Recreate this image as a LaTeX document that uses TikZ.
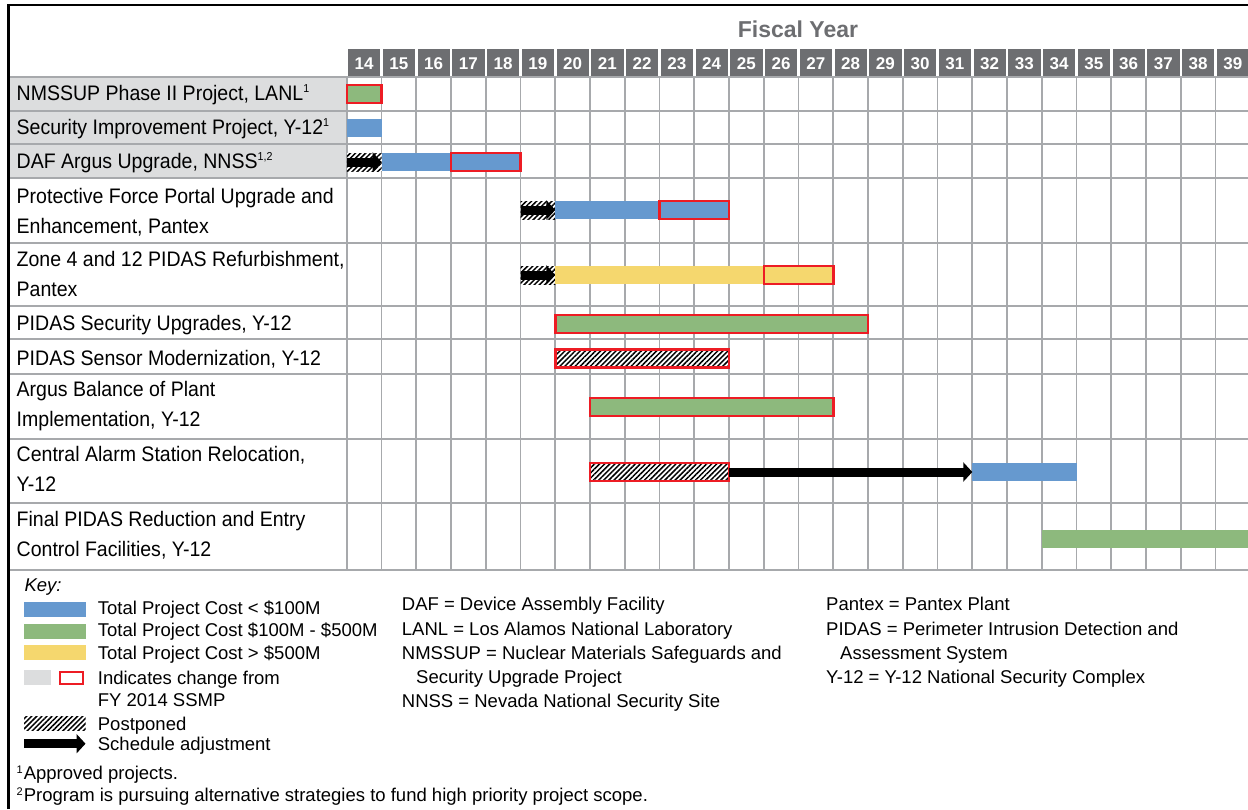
\documentclass[tikz,border=0pt]{standalone}
\usepackage{fontspec}
\setmainfont{Liberation Sans}
\newfontfamily\narrowf[FakeStretch=0.93]{Liberation Sans}
\usetikzlibrary{arrows.meta,patterns.meta}
\definecolor{hdrgray}{HTML}{6D6E71}
\definecolor{gridgray}{HTML}{A7A9AC}
\definecolor{lblgray}{HTML}{DCDDDE}
\definecolor{barblue}{HTML}{6699CF}
\definecolor{bargreen}{HTML}{8DB97D}
\definecolor{baryellow}{HTML}{F5D76E}
\definecolor{chgred}{HTML}{ED1C24}
\newcommand{\supr}[1]{\raisebox{7.5pt}{\fontsize{11.5}{11.5}\selectfont #1}}
\newcommand{\fnmark}[1]{\raisebox{6pt}{\fontsize{11}{11}\selectfont #1}\hspace{1pt}}
\newcommand{\gbar}[5]{\node[#2, minimum width={(#4-#3)*34.75pt}] (#1) at ({346.8+34.75*(#3-14)},#5) {};}
\begin{document}
\begin{tikzpicture}[x=1pt,y=-1pt,
  gridline/.style={draw=gridgray, line width=1.8pt},
  hdrnum/.style={anchor=base, inner sep=0, text=white, font=\bfseries\fontsize{17}{17}\selectfont},
  lbl/.style={anchor=base west, inner sep=0, align=left, font=\narrowf\fontsize{21}{29.6}\selectfont},
  keyt/.style={anchor=base west, inner sep=0, font=\fontsize{18.5}{18.5}\selectfont},
  barbase/.style={anchor=north west, inner sep=0, outer sep=0, minimum height=18pt},
  blueb/.style={barbase, fill=barblue},
  greenb/.style={barbase, fill=bargreen},
  yellowb/.style={barbase, fill=baryellow},
  chg/.style={draw=chgred, line width=2.5pt},
  hatchb/.style={barbase, preaction={fill=white}, pattern={Lines[angle=45,distance=3.6pt,line width=1.5pt]}},
  sched/.style={line width=9pt, -{Triangle[length=9pt,width=19pt]}},
]
\useasboundingbox (0,0) rectangle (1248,809);
\fill[white] (0,0) rectangle (1248,809);

% label cells shaded
\fill[lblgray] (9.5,76.7) rectangle (346.8,178.3);

% grid lines
\foreach \i in {0,...,26} \draw[gridline] ({346.8+34.75*\i},76.7) -- ({346.8+34.75*\i},570);
\foreach \yy in {76.7,110.7,144,178.3,243.3,305.7,339,374.3,439.3,503.3,570} \draw[gridline] (9,\yy) -- (1248,\yy);

% header
\node[anchor=base, inner sep=0, text=hdrgray, font=\bfseries\fontsize{23}{23}\selectfont] (fy) at (798,37.3) {Fiscal Year};
\foreach \i in {14,...,39} {
  \fill[hdrgray] ({346.8+34.75*(\i-14)+1.2},49.3) rectangle ({346.8+34.75*(\i-13)-1.2},76);
  \node[hdrnum] (y\i) at ({346.8+34.75*(\i-14)+17.375},69.3) {\i};
}

% row labels (two-line labels anchored at their last baseline)
\node[lbl] (l1) at (16.5,100) {NMSSUP Phase II Project, LANL\supr{1}};
\node[lbl] (l2) at (16.5,134) {Security Improvement Project, Y-12\supr{1}};
\node[lbl] (l3) at (16.5,168) {DAF Argus Upgrade, NNSS\supr{1,2}};
\node[lbl] (l4) at (16.5,233.5) {Protective Force Portal Upgrade and\\Enhancement, Pantex};
\node[lbl] (l5) at (16.5,296.5) {Zone 4 and 12 PIDAS Refurbishment,\\Pantex};
\node[lbl] (l6) at (16.5,330.7) {PIDAS Security Upgrades, Y-12};
\node[lbl] (l7) at (16.5,365) {PIDAS Sensor Modernization, Y-12};
\node[lbl] (l8) at (16.5,426.5) {Argus Balance of Plant\\Implementation, Y-12};
\node[lbl] (l9) at (16.5,491.5) {Central Alarm Station Relocation,\\Y-12};
\node[lbl] (l10) at (16.5,556.5) {Final PIDAS Reduction and Entry\\Control Facilities, Y-12};

% bars
\gbar{b1}{greenb,chg}{14}{15}{85}
\gbar{b2}{blueb}{14}{15}{119}
\gbar{h3}{hatchb}{14}{15}{153}
\draw[sched] (h3.west) -- (h3.east);
\gbar{b3a}{blueb}{15}{17}{153}
\gbar{b3b}{blueb,chg}{17}{19}{153}
\gbar{h4}{hatchb}{19}{20}{201}
\draw[sched] (h4.west) -- (h4.east);
\gbar{b4a}{blueb}{20}{23}{201}
\gbar{b4b}{blueb,chg}{23}{25}{201}
\gbar{h5}{hatchb}{19}{20}{266}
\draw[sched] (h5.west) -- (h5.east);
\gbar{b5a}{yellowb}{20}{26}{266}
\gbar{b5b}{yellowb,chg}{26}{28}{266}
\gbar{b6}{greenb,chg}{20}{29}{315}
\gbar{b7}{hatchb,chg}{20}{25}{349.5}
\gbar{b8}{greenb,chg}{21}{28}{398}
\gbar{b9a}{hatchb,chg}{21}{25}{463}
\gbar{b9b}{blueb}{32}{35}{463}
\draw[sched] (b9a.east) -- (b9b.west);
\gbar{b10}{greenb}{34}{40}{530}

% key
\node[anchor=base west, inner sep=0, font=\itshape\fontsize{18.5}{18.5}\selectfont] (key) at (24.3,591.7) {Key:};
\node[anchor=north west, inner sep=0, minimum width=61.3pt, minimum height=15pt, fill=barblue] (k1) at (24,601.7) {};
\node[anchor=north west, inner sep=0, minimum width=61.3pt, minimum height=15pt, fill=bargreen] (k2) at (24,623.3) {};
\node[anchor=north west, inner sep=0, minimum width=61.3pt, minimum height=15pt, fill=baryellow] (k3) at (24,645) {};
\node[anchor=north west, inner sep=0, minimum width=27pt, minimum height=15pt, fill=lblgray] (k4a) at (24,669.3) {};
\node[anchor=north west, inner sep=0, minimum width=23.5pt, minimum height=12.5pt, draw=chgred, line width=2.3pt] (k4b) at (58.5,670.5) {};
\node[anchor=north west, inner sep=0, minimum width=61.3pt, minimum height=14.7pt, preaction={fill=white}, pattern={Lines[angle=45,distance=3.6pt,line width=1.5pt]}] (k5) at (24,716) {};
\coordinate (k6a) at (24,743.7);
\coordinate (k6b) at (85.5,743.7);
\draw[sched] (k6a) -- (k6b);

\node[keyt] (t1) at (97.7,614.3) {Total Project Cost < \$100M};
\node[keyt] (t2) at (97.7,636.7) {Total Project Cost \$100M - \$500M};
\node[keyt] (t3) at (97.7,659) {Total Project Cost > \$500M};
\node[keyt] (t4) at (97.7,684) {Indicates change from};
\node[keyt] (t4b) at (97.7,706.7) {FY 2014 SSMP};
\node[keyt] (t5) at (97.7,730) {Postponed};
\node[keyt] (t6) at (97.7,750) {Schedule adjustment};

\node[keyt] (a1) at (401.7,610.7) {DAF = Device Assembly Facility};
\node[keyt] (a2) at (401.7,635) {LANL = Los Alamos National Laboratory};
\node[keyt] (a3) at (401.7,659.5) {NMSSUP = Nuclear Materials Safeguards and};
\node[keyt] (a3b) at (416,683.5) {Security Upgrade Project};
\node[keyt] (a4) at (401.7,707.5) {NNSS = Nevada National Security Site};

\node[keyt] (r1) at (826,610.7) {Pantex = Pantex Plant};
\node[keyt] (r2) at (826,635) {PIDAS = Perimeter Intrusion Detection and};
\node[keyt] (r2b) at (840,659.3) {Assessment System};
\node[keyt] (r3) at (826,683.3) {Y-12 = Y-12 National Security Complex};

\node[keyt] (f1) at (16.5,779.3) {\fnmark{1}Approved projects.};
\node[keyt] (f2) at (16.5,801.7) {\fnmark{2}Program is pursuing alternative strategies to fund high priority project scope.};

% frame
\draw[line width=2.6pt, line join=miter] (8.5,809) -- (8.5,5) -- (1248,5);
\end{tikzpicture}
\end{document}
